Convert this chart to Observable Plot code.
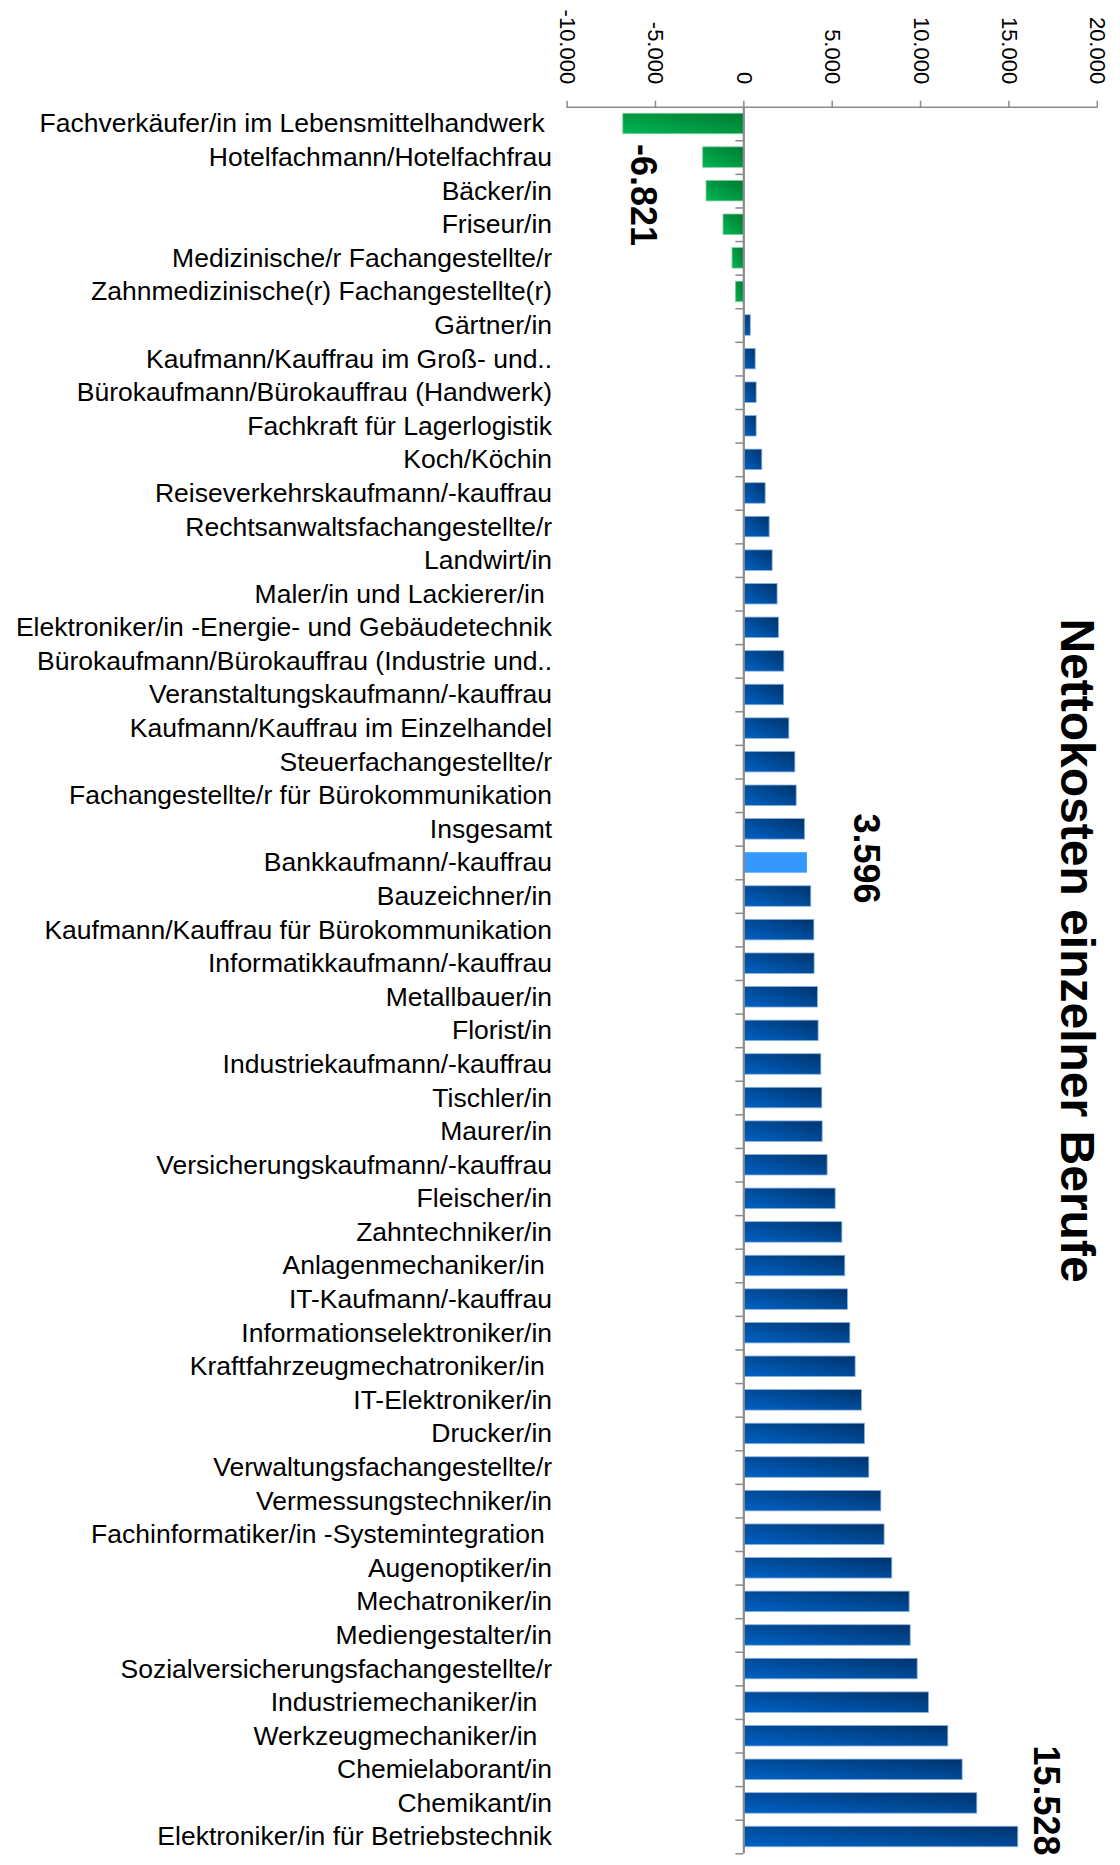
<!DOCTYPE html>
<html>
<head>
<meta charset="utf-8">
<script src="https://cdn.jsdelivr.net/npm/d3@7"></script>
<script src="https://cdn.jsdelivr.net/npm/@observablehq/plot@0.6"></script>
<style>
  body { margin: 0; background: #fff; }
  #chart svg text { white-space: pre; }
</style>
</head>
<body>
<div id="chart"></div>
<script>
// ---- data ----
const categories = [
  "Fachverkäufer/in im Lebensmittelhandwerk ",
  "Hotelfachmann/Hotelfachfrau",
  "Bäcker/in",
  "Friseur/in",
  "Medizinische/r Fachangestellte/r",
  "Zahnmedizinische(r) Fachangestellte(r)",
  "Gärtner/in",
  "Kaufmann/Kauffrau im Groß- und..",
  "Bürokaufmann/Bürokauffrau (Handwerk)",
  "Fachkraft für Lagerlogistik",
  "Koch/Köchin",
  "Reiseverkehrskaufmann/-kauffrau",
  "Rechtsanwaltsfachangestellte/r",
  "Landwirt/in",
  "Maler/in und Lackierer/in ",
  "Elektroniker/in -Energie- und Gebäudetechnik",
  "Bürokaufmann/Bürokauffrau (Industrie und..",
  "Veranstaltungskaufmann/-kauffrau",
  "Kaufmann/Kauffrau im Einzelhandel",
  "Steuerfachangestellte/r",
  "Fachangestellte/r für Bürokommunikation",
  "Insgesamt",
  "Bankkaufmann/-kauffrau",
  "Bauzeichner/in",
  "Kaufmann/Kauffrau für Bürokommunikation",
  "Informatikkaufmann/-kauffrau",
  "Metallbauer/in",
  "Florist/in",
  "Industriekaufmann/-kauffrau",
  "Tischler/in",
  "Maurer/in",
  "Versicherungskaufmann/-kauffrau",
  "Fleischer/in",
  "Zahntechniker/in",
  "Anlagenmechaniker/in ",
  "IT-Kaufmann/-kauffrau",
  "Informationselektroniker/in",
  "Kraftfahrzeugmechatroniker/in ",
  "IT-Elektroniker/in",
  "Drucker/in",
  "Verwaltungsfachangestellte/r",
  "Vermessungstechniker/in",
  "Fachinformatiker/in -Systemintegration ",
  "Augenoptiker/in",
  "Mechatroniker/in",
  "Mediengestalter/in",
  "Sozialversicherungsfachangestellte/r",
  "Industriemechaniker/in  ",
  "Werkzeugmechaniker/in  ",
  "Chemielaborant/in",
  "Chemikant/in",
  "Elektroniker/in für Betriebstechnik"
];
const values = [
  -6821, -2300, -2110, -1150, -640, -450,
  390, 670, 725, 725, 1045, 1235, 1460, 1630, 1910, 1990,
  2290, 2280, 2575, 2915, 2990, 3460, 3596, 3815, 3990,
  4005, 4190, 4230, 4385, 4440, 4460, 4740, 5195, 5575,
  5740, 5890, 6025, 6325, 6680, 6850, 7100, 7780, 7965,
  8400, 9380, 9440, 9835, 10475, 11570, 12380, 13210, 15528
];
const highlighted = ["Bankkaufmann/-kauffrau"];
const labelMin = ["Fachverkäufer/in im Lebensmittelhandwerk "];
const labelMid = ["Bankkaufmann/-kauffrau"];
const labelMax = ["Elektroniker/in für Betriebstechnik"];
const xTicks = [-10000, -5000, 0, 5000, 10000, 15000, 20000];
const titleText = ["Nettokosten einzelner Berufe"];

// ---- build ----
const rows = categories.map((c, i) => ({cat: c, value: values[i]}));
const fmt = d3.formatLocale({decimal: ",", thousands: ".", grouping: [3], currency: ["", " €"], minus: "-"}).format(",d");

const W = 1120, H = 1865;
const mTop = 106.7, mBottom = 11.7, mLeft = 566.6, mRight = 23.2;
const step = (H - mTop - mBottom) / categories.length;
const grey = "#8a8a8a";

const chart = Plot.plot({
  width: W,
  height: H,
  marginTop: mTop,
  marginBottom: mBottom,
  marginLeft: mLeft,
  marginRight: mRight,
  style: {fontFamily: "'Liberation Sans', Arial, Helvetica, sans-serif", background: "#fff", color: "#000"},
  x: {domain: [xTicks[0], xTicks[xTicks.length - 1]]},
  y: {domain: categories, paddingInner: 0.39, paddingOuter: 0.195},
  marks: [
    // horizontal axis line at top of frame
    Plot.ruleY([categories[0]], {dy: -step / 2, stroke: grey, strokeWidth: 1.5}),
    Plot.axisX(xTicks, {anchor: "top", tickSize: 7, stroke: grey, strokeWidth: 1.5, fill: "none", label: null}),
    Plot.text(xTicks, {
      x: d => d, text: d => fmt(d), frameAnchor: "top", rotate: 90,
      textAnchor: "end", lineAnchor: "middle", dy: -23, fontSize: 22, fill: "#000"
    }),
    // bars
    Plot.barX(rows.filter(d => d.value < 0), {
      x: "value", y: "cat", fill: "url(#gradGreen)", stroke: "#7fd09c", strokeWidth: 0.8
    }),
    Plot.barX(rows.filter(d => d.value >= 0 && !highlighted.includes(d.cat)), {
      x: "value", y: "cat", fill: "url(#gradBlue)", stroke: "#86aee0", strokeWidth: 0.8
    }),
    Plot.barX(rows.filter(d => highlighted.includes(d.cat)), {
      x: "value", y: "cat", fill: "#3399ff"
    }),
    // vertical category axis at zero with ticks at band boundaries
    Plot.ruleX([0], {stroke: grey, strokeWidth: 2.2}),
    Plot.ruleY(categories, {x1: 0, x2: 0, insetLeft: -8, dy: step / 2, stroke: grey, strokeWidth: 1.5}),
    Plot.axisY({anchor: "left", tickSize: 0, tickPadding: 15, fontSize: 26.5, fill: "#000", label: null}),
    // value labels
    Plot.text(rows.filter(d => labelMin.includes(d.cat)), {
      x: "value", y: "cat", text: d => fmt(d.value), rotate: 90,
      textAnchor: "start", lineAnchor: "middle", dx: 19, dy: 20,
      fontSize: 36, fontWeight: "bold", fill: "#000"
    }),
    Plot.text(rows.filter(d => labelMid.includes(d.cat)), {
      x: "value", y: "cat", text: d => fmt(d.value), rotate: 90,
      textAnchor: "middle", lineAnchor: "middle", dx: 58, dy: -4.5,
      fontSize: 36, fontWeight: "bold", fill: "#000"
    }),
    Plot.text(rows.filter(d => labelMax.includes(d.cat)), {
      x: "value", y: "cat", text: d => fmt(d.value), rotate: 90,
      textAnchor: "end", lineAnchor: "middle", dx: 27, dy: 18.5,
      fontSize: 36, fontWeight: "bold", fill: "#000"
    }),
    // title
    Plot.text(titleText, {
      frameAnchor: "right", rotate: 90, textAnchor: "middle", lineAnchor: "middle",
      dx: -21, dy: -30, fontSize: 48, fontWeight: "bold", fill: "#000"
    })
  ]
});

// gradient definitions
const defs = d3.select(chart).insert("defs", ":first-child");
const blue = defs.append("linearGradient").attr("id", "gradBlue")
  .attr("x1", 0).attr("y1", 1).attr("x2", 1).attr("y2", 0);
blue.append("stop").attr("offset", "0%").attr("stop-color", "#0062c6");
blue.append("stop").attr("offset", "100%").attr("stop-color", "#00346c");
const green = defs.append("linearGradient").attr("id", "gradGreen")
  .attr("x1", 0).attr("y1", 1).attr("x2", 1).attr("y2", 0);
green.append("stop").attr("offset", "0%").attr("stop-color", "#00b652");
green.append("stop").attr("offset", "100%").attr("stop-color", "#007a32");

document.getElementById("chart").appendChild(chart);
</script>
</body>
</html>
